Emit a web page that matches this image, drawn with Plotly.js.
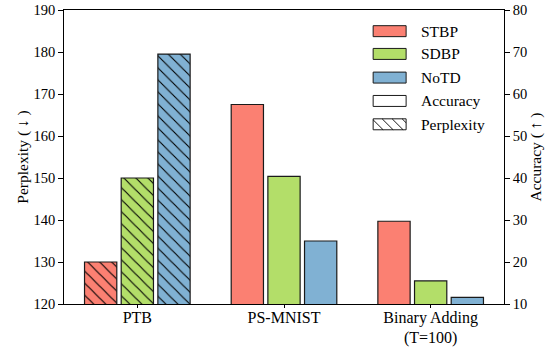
<!DOCTYPE html>
<html>
<head>
<meta charset="utf-8">
<script src="https://cdn.plot.ly/plotly-3.0.1.min.js"></script>
<style>html,body{margin:0;padding:0;background:#fff}#chart{width:556px;height:349px}</style>
</head>
<body>
<div id="chart"></div>
<script>
// ---- data ----
const categories = ['PTB', 'PS-MNIST', 'Binary Adding<br>(T=100)'];
const methods = ['STBP', 'SDBP', 'NoTD'];
const ptbPerplexity = [130.0, 150.0, 179.5];   // STBP, SDBP, NoTD (left axis)
const psmnistAccuracy = [57.5, 40.4, 25.0];     // right axis
const binaryAccuracy = [29.7, 15.5, 11.6];      // right axis
const legendMetrics = ['Accuracy', 'Perplexity'];

// ---- style ----
const colors = ['#FB8072', '#B3DE69', '#80B1D3'];
const FONT = "'Liberation Serif', 'Times New Roman', Times, serif";
const W = 556, H = 349;
const M = {l: 63.5, r: 52, t: 9.5, b: 45};
const barW = 0.22;
const offsets = [-0.36, -0.11, 0.14];

const traces = [];
methods.forEach((m, i) => {
  traces.push({
    type: 'bar', name: m + ' perplexity', showlegend: false,
    x: [categories[0]], y: [ptbPerplexity[i]], yaxis: 'y',
    width: barW, offset: offsets[i],
    marker: {color: colors[i], line: {color: '#1a1a1a', width: 1.2},
             pattern: {shape: '\\', size: 8.5, solidity: 0.13, fgcolor: '#000', fgopacity: 1,
                       bgcolor: colors[i], fillmode: 'replace'}},
    hoverinfo: 'skip'
  });
  traces.push({
    type: 'bar', name: m + ' accuracy', showlegend: false,
    x: [categories[1], categories[2]], y: [psmnistAccuracy[i], binaryAccuracy[i]], yaxis: 'y2',
    width: barW, offset: offsets[i],
    marker: {color: colors[i], line: {color: '#1a1a1a', width: 1.2}},
    hoverinfo: 'skip'
  });
});

// ---- custom legend (pixel -> paper) ----
const pw = W - M.l - M.r, ph = H - M.t - M.b;
const px = x => (x - M.l) / pw;
const py = y => 1 - (y - M.t) / ph;
const shapes = [], annotations = [];
const legX0 = 373, legX1 = 406, legTextX = 419, patchH = 11;
const legY = [30.7, 53.5, 77.2, 100.6, 124.0];
const legLabels = methods.concat(legendMetrics);
legLabels.forEach((lab, k) => {
  const yc = legY[k];
  const top = yc - patchH / 2, bot = yc + patchH / 2;
  shapes.push({type: 'rect', xref: 'paper', yref: 'paper',
    x0: px(legX0), x1: px(legX1), y0: py(bot), y1: py(top),
    fillcolor: k < 3 ? colors[k] : '#ffffff', line: {color: '#1a1a1a', width: 1}});
  if (lab === 'Perplexity') {
    let d = '';
    for (let a = legX0 - patchH; a < legX1; a += 10) {
      let xs = a, ys = top, xe = a + patchH, ye = bot;
      if (xs < legX0) { ys = top + (legX0 - xs); xs = legX0; }
      if (xe > legX1) { ye = top + (legX1 - a); xe = legX1; }
      if (xe - xs < 0.5) continue;
      d += 'M' + px(xs) + ',' + py(ys) + 'L' + px(xe) + ',' + py(ye);
    }
    shapes.push({type: 'path', xref: 'paper', yref: 'paper', path: d,
      line: {color: '#000', width: 0.9}});
  }
  annotations.push({xref: 'paper', yref: 'paper', x: px(legTextX), y: py(yc),
    xanchor: 'left', yanchor: 'middle', text: lab, showarrow: false,
    font: {family: FONT, size: 15.5, color: '#000'}});
});

const axisCommon = {
  showgrid: false, zeroline: false, showline: true, linecolor: '#000', linewidth: 1.3,
  ticks: 'outside', ticklen: 4.5, tickwidth: 1, tickcolor: '#000',
  tickfont: {family: FONT, size: 14.5, color: '#000'}
};

const layout = {
  width: W, height: H,
  margin: M,
  font: {family: FONT, color: '#000'},
  paper_bgcolor: '#fff', plot_bgcolor: '#fff',
  showlegend: false,
  barmode: 'overlay',
  xaxis: Object.assign({}, axisCommon, {
    type: 'category', categoryorder: 'array', categoryarray: categories,
    range: [-0.5, 2.5], mirror: true, ticklen: 3,
    tickfont: {family: FONT, size: 16, color: '#000'}, ticklabelstandoff: -5
  }),
  yaxis: Object.assign({}, axisCommon, {
    range: [120, 190], dtick: 10,
    title: {text: 'Perplexity ( ↓ )', font: {family: FONT, size: 15.5, color: '#000'}, standoff: 1}
  }),
  yaxis2: Object.assign({}, axisCommon, {
    range: [10, 80], dtick: 10, overlaying: 'y', side: 'right',
    title: {text: 'Accuracy ( ↑ )', font: {family: FONT, size: 15.5, color: '#000'}, standoff: 1}
  }),
  shapes: shapes,
  annotations: annotations
};

Plotly.newPlot('chart', traces, layout, {staticPlot: true, displayModeBar: false});
</script>
</body>
</html>
